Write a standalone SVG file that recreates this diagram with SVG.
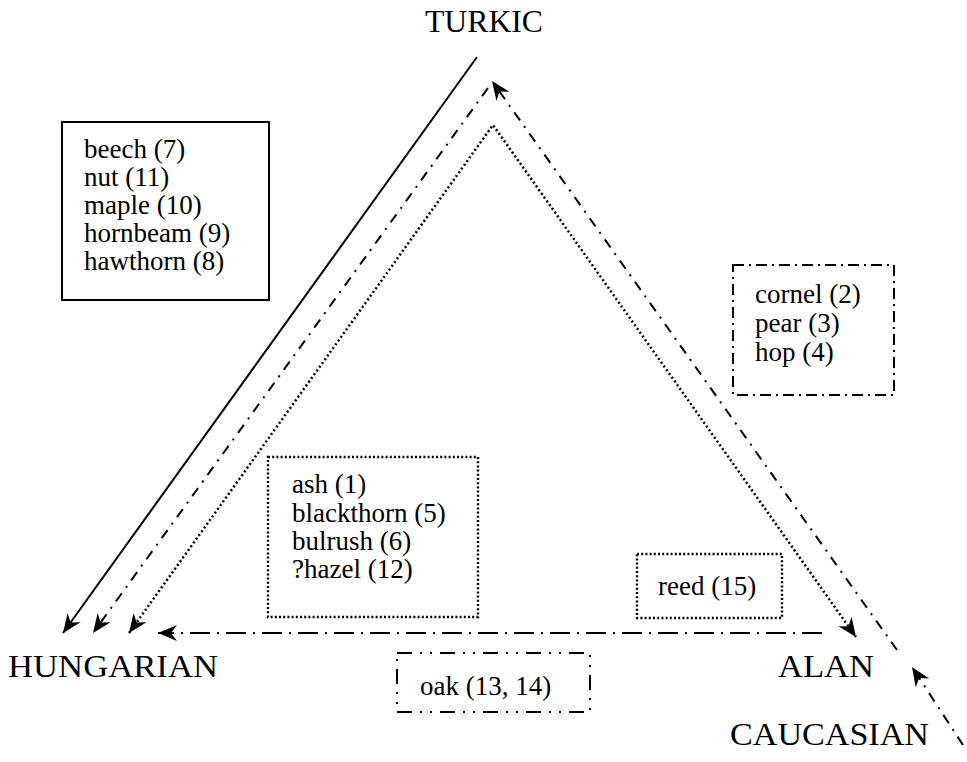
<svg xmlns="http://www.w3.org/2000/svg" width="967" height="762" viewBox="0 0 967 762">
<style>
text{font-family:"Liberation Serif","Times New Roman",serif;fill:#000}
.lbl{font-size:32px}
.item{font-size:27px}
.ln{fill:none;stroke:#000;stroke-width:2}
.dd{stroke-dasharray:10,7,2,7}
.dot{stroke-width:2.5;stroke-dasharray:2,2.6}
.ldd{stroke-dasharray:20,7,2,7}
.bx{fill:none;stroke:#000;stroke-width:2}
.bdd{stroke-dasharray:11,5,2,5}
.bd3{stroke-dasharray:15,8,2,8,2,8}
.bdot{stroke-width:2.4;stroke-dasharray:2,2.2}
</style>
<defs>
<marker id="ah" viewBox="-20 -10 22 20" refX="0" refY="0" markerWidth="22" markerHeight="20" markerUnits="userSpaceOnUse" orient="auto-start-reverse">
<path d="M0,0 L-19,-8 L-13,0 L-19,8 Z" fill="#000"/>
</marker>
</defs>
<g id="labels">
<text id="turkic" class="lbl" x="425" y="32" textLength="118" lengthAdjust="spacingAndGlyphs">TURKIC</text>
<text id="hungarian" class="lbl" x="8" y="677" textLength="210" lengthAdjust="spacingAndGlyphs">HUNGARIAN</text>
<text id="alan" class="lbl" x="778" y="677" textLength="96" lengthAdjust="spacingAndGlyphs">ALAN</text>
<text id="caucasian" class="lbl" x="730" y="745" textLength="199" lengthAdjust="spacingAndGlyphs">CAUCASIAN</text>
</g>
<g id="connectors">
<line class="ln" x1="477" y1="57" x2="63" y2="633" marker-end="url(#ah)"/>
<line class="ln dd" x1="488" y1="88" x2="93" y2="633" marker-end="url(#ah)"/>
<line class="ln dd" x1="897" y1="650" x2="492" y2="81" marker-end="url(#ah)"/>
<line class="ln dd" x1="963" y1="745" x2="912" y2="667" marker-end="url(#ah)"/>
<polyline class="ln dot" points="129,633 493,125 856,637" marker-start="url(#ah)" marker-end="url(#ah)"/>
<line class="ln ldd" x1="822" y1="633" x2="158" y2="633" marker-end="url(#ah)"/>
</g>
<g id="box-turkic-hungarian">
<rect class="bx" x="62" y="122" width="207" height="178"/>
<text class="item" x="84" y="158">beech (7)</text>
<text class="item" x="84" y="186">nut (11)</text>
<text class="item" x="84" y="214">maple (10)</text>
<text class="item" x="84" y="242">hornbeam (9)</text>
<text class="item" x="84" y="270">hawthorn (8)</text>
</g>
<g id="box-caucasian">
<rect class="bx bdd" x="733" y="265" width="161" height="130"/>
<text class="item" x="755" y="303">cornel (2)</text>
<text class="item" x="755" y="332">pear (3)</text>
<text class="item" x="755" y="361">hop (4)</text>
</g>
<g id="box-turkic-dotted">
<rect class="bx bdot" x="268" y="457" width="210" height="160"/>
<text class="item" x="292" y="493">ash (1)</text>
<text class="item" x="292" y="522">blackthorn (5)</text>
<text class="item" x="292" y="550">bulrush (6)</text>
<text class="item" x="292" y="578">?hazel (12)</text>
</g>
<g id="box-reed">
<rect class="bx bdot" x="637" y="554" width="145" height="64"/>
<text class="item" x="658" y="595">reed (15)</text>
</g>
<g id="box-oak">
<rect class="bx bd3" x="397" y="653" width="193" height="59"/>
<text class="item" x="420" y="695">oak (13, 14)</text>
</g>
</svg>
